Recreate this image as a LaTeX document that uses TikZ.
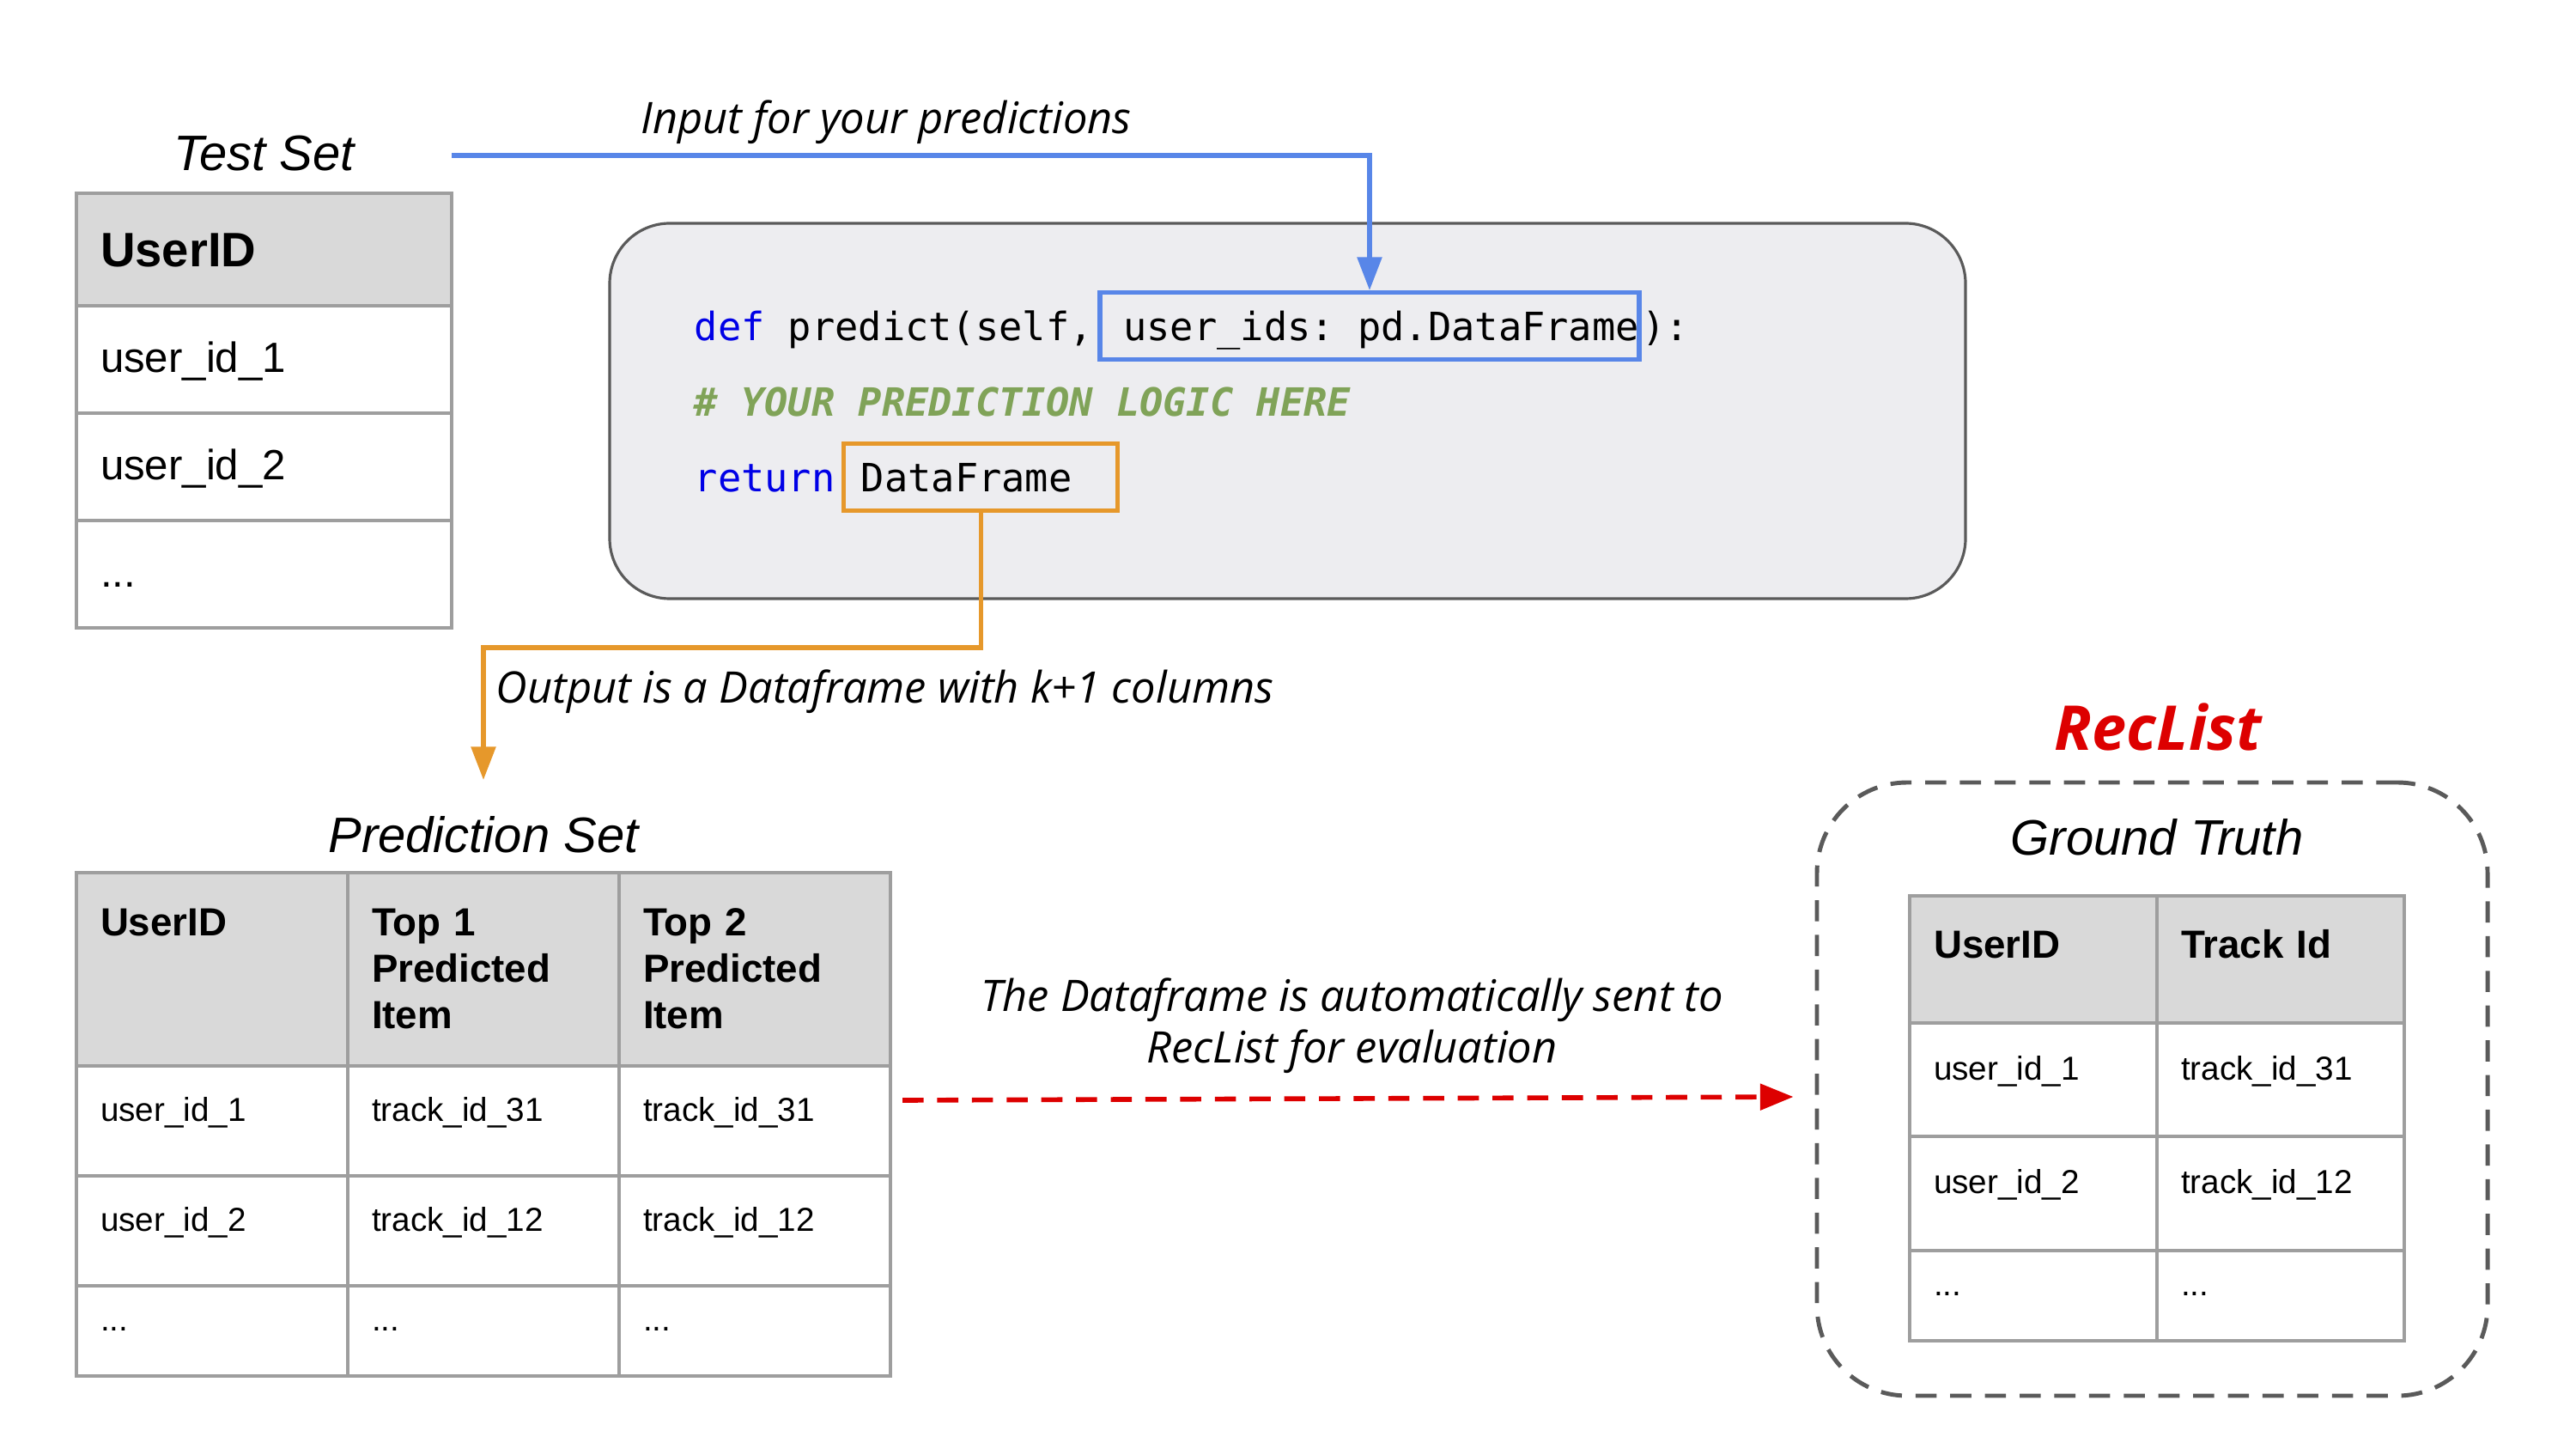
\documentclass[tikz,border=0pt]{standalone}
\usepackage{fontspec}
\setmainfont{Liberation Sans}
\setmonofont{DejaVu Sans Mono}
\newfontfamily\notefont{Open Sans}
\usetikzlibrary{positioning, arrows.meta}

\definecolor{gridgray}{RGB}{158,158,158}
\definecolor{headgray}{RGB}{217,217,217}
\definecolor{codebg}{RGB}{237,237,240}
\definecolor{codeedge}{RGB}{90,90,90}
\definecolor{inblue}{RGB}{88,134,232}
\definecolor{outorange}{RGB}{230,152,43}
\definecolor{recred}{RGB}{221,0,0}
\definecolor{kwblue}{RGB}{0,0,230}
\definecolor{cmtgreen}{RGB}{128,163,88}
\definecolor{boxgray}{RGB}{90,90,90}

\begin{document}
\begin{tikzpicture}[
    cell/.style={draw=gridgray, line width=0.9pt, outer sep=0pt, inner ysep=0pt, inner xsep=0.28cm, align=left},
    tshead/.style={cell, fill=headgray, text width=3.81cm, minimum height=1.31cm, text height=0.4cm, text depth=0cm, font=\bfseries\fontsize{16}{19}\selectfont},
    tscell/.style={cell, text width=3.81cm, minimum height=1.25cm, text height=0.35cm, text depth=0.05cm, font=\fontsize{14}{17}\selectfont},
    predhead/.style={cell, fill=headgray, text width=2.60cm, text height=0.73cm, text depth=1.52cm, font=\bfseries\fontsize{13}{15.5}\selectfont},
    predcell/.style={cell, text width=2.60cm, text height=0.2cm, text depth=0.2cm, font=\fontsize{11}{13}\selectfont},
    gthead/.style={cell, fill=headgray, text width=2.32cm, text height=0.72cm, text depth=0.76cm, font=\bfseries\fontsize{13}{15.5}\selectfont},
    gtcell/.style={cell, text width=2.32cm, text height=0.2cm, text depth=0.2cm, font=\fontsize{11}{13}\selectfont},
    settitle/.style={inner sep=0pt, font=\itshape\fontsize{16.5}{20}\selectfont},
    note/.style={inner sep=0pt, font=\notefont\itshape\fontsize{14.4}{17}\selectfont},
    code/.style={inner sep=0pt, text height=12pt, text depth=2.6pt, font=\ttfamily\fontsize{12.9}{15}\selectfont},
    hlbox/.style={code, line width=1.5pt, inner ysep=3.75pt},
  ]
    \useasboundingbox (0,0) rectangle (30,-16.87);

    \node[tshead, anchor=north west] (tsh) at (0.89,-2.25) {UserID};
    \node[tscell, below=0pt of tsh] (ts1) {user\_id\_1};
    \node[tscell, below=0pt of ts1] (ts2) {user\_id\_2};
    \node[tscell, below=0pt of ts2] (ts3) {...};
    \node[settitle, above=0.25cm of tsh] (tstitle) {Test Set};

    \node[draw=codeedge, fill=codebg, line width=0.9pt, rounded corners=0.7cm, minimum width=15.79cm, minimum height=4.37cm] (codebox) at (14.995,-4.785) {};
    \node[code, anchor=west] (defline) at (8.08,-3.795) {\textcolor{kwblue}{def} predict(self,};
    \node[hlbox, draw=inblue, right=0.05cm of defline] (uids) {\ user\_ids: pd.DataFrame};
    \node[code, right=0pt of uids] (defend) {):};
    \node[code, anchor=west] (cmtline) at (8.08,-4.675) {\textcolor{cmtgreen}{\bfseries\itshape \# YOUR PREDICTION LOGIC HERE}};
    \node[code, anchor=west] (retkw) at (8.08,-5.555) {\textcolor{kwblue}{return}};
    \node[hlbox, draw=outorange, right=0.07cm of retkw, inner xsep=0.2cm] (retdf) {DataFrame\kern0.33cm};

    \node[predhead, anchor=north west] (ph1) at (0.89,-10.16) {UserID};
    \node[predhead, right=0pt of ph1] (ph2) {Top 1\\Predicted\\Item};
    \node[predhead, right=0pt of ph2] (ph3) {Top 2\\Predicted\\Item};
    \node[predcell, minimum height=1.28cm, below=0pt of ph1] (pr1c1) {user\_id\_1};
    \node[predcell, minimum height=1.28cm, right=0pt of pr1c1] (pr1c2) {track\_id\_31};
    \node[predcell, minimum height=1.28cm, right=0pt of pr1c2] (pr1c3) {track\_id\_31};
    \node[predcell, minimum height=1.28cm, below=0pt of pr1c1] (pr2c1) {user\_id\_2};
    \node[predcell, minimum height=1.28cm, right=0pt of pr2c1] (pr2c2) {track\_id\_12};
    \node[predcell, minimum height=1.28cm, right=0pt of pr2c2] (pr2c3) {track\_id\_12};
    \node[predcell, minimum height=1.05cm, below=0pt of pr2c1] (pr3c1) {...};
    \node[predcell, minimum height=1.05cm, right=0pt of pr3c1] (pr3c2) {...};
    \node[predcell, minimum height=1.05cm, right=0pt of pr3c2] (pr3c3) {...};
    \node[settitle, above=0.22cm of ph2] (predtitle) {Prediction Set};

    \node[gthead, anchor=north west] (gh1) at (22.24,-10.43) {UserID};
    \node[gthead, right=0pt of gh1] (gh2) {Track Id};
    \node[gtcell, minimum height=1.32cm, below=0pt of gh1] (gr1c1) {user\_id\_1};
    \node[gtcell, minimum height=1.32cm, right=0pt of gr1c1] (gr1c2) {track\_id\_31};
    \node[gtcell, minimum height=1.33cm, below=0pt of gr1c1] (gr2c1) {user\_id\_2};
    \node[gtcell, minimum height=1.33cm, right=0pt of gr2c1] (gr2c2) {track\_id\_12};
    \node[gtcell, minimum height=1.05cm, below=0pt of gr2c1] (gr3c1) {...};
    \node[gtcell, minimum height=1.05cm, right=0pt of gr3c1] (gr3c2) {...};
    \node[settitle, above=0.46cm of gh1.north east] (gttitle) {Ground Truth};
    \node[draw=boxgray, line width=1.4pt, dash pattern=on 7pt off 4.5pt, rounded corners=1.05cm, minimum width=7.81cm, minimum height=7.14cm] (gtbox) at (25.065,-12.68) {};
    \node[inner sep=0pt, text=recred, font=\notefont\bfseries\itshape\fontsize{20.5}{24}\selectfont, above=0.34cm of gtbox, xshift=0.07cm] (reclist) {RecList};

    \coordinate (inStart) at (5.26,-1.81);
    \draw[inblue, line width=1.5pt, -{Triangle[length=11pt,width=8pt]}] (inStart) -| (uids.north);
    \node[note, anchor=base west] (innote) at (7.46,-1.56) {Input for your predictions};

    \coordinate (outEnd) at (5.63,-9.08);
    \draw[outorange, line width=1.5pt, -{Triangle[length=11pt,width=8pt]}] (retdf.south) -- ++(0,-1.57) -| (outEnd);
    \node[note, anchor=base west] (outnote) at (5.77,-8.19) {Output is a Dataframe with k+1 columns};

    \draw[recred, line width=1.6pt, dash pattern=on 7pt off 4.5pt, -{Triangle[length=11pt,width=8.5pt]}] ([xshift=0.14cm,yshift=0.24cm]pr1c3.east) -- node[note, text=black, align=center, above=0.27cm, xshift=0.05cm] (sendnote) {The Dataframe is automatically sent to\\RecList for evaluation} ([xshift=-0.25cm,yshift=-0.09cm]gtbox.west);
\end{tikzpicture}
\end{document}
